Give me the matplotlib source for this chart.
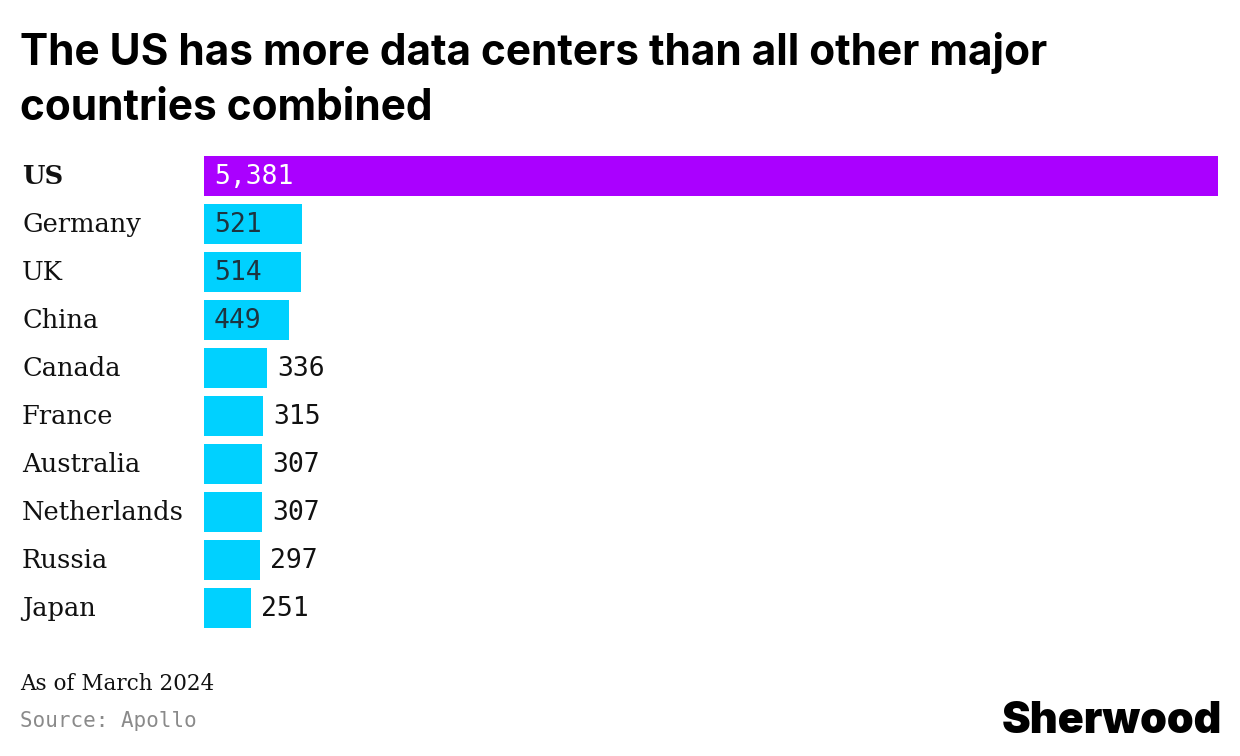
import matplotlib
matplotlib.use("Agg")
import matplotlib.pyplot as plt
from matplotlib.transforms import blended_transform_factory

# data
countries = ["US", "Germany", "UK", "China", "Canada", "France",
             "Australia", "Netherlands", "Russia", "Japan"]
data_centers = [5381, 521, 514, 449, 336, 315, 307, 307, 297, 251]

TITLE = "The US has more data centers than all other major\ncountries combined"
NOTE = "As of March 2024"
SOURCE = "Source: Apollo"

PURPLE = "#AA00FF"
CYAN = "#00D1FF"
W, H = 1240, 756
INSIDE_MIN = 400

fig = plt.figure(figsize=(W / 100, H / 100), dpi=100)
fig.patch.set_facecolor("white")

# axes placed in pixel terms: bars span x 204..1218, y 156..628
left, right, top, bottom = 204, 1218, 156, 628
ax = fig.add_axes([left / W, 1 - bottom / H, (right - left) / W, (bottom - top) / H])
ax.set_axis_off()

bar_h = 40 / 48
ypos = list(range(len(countries)))
colors = [PURPLE if c == "US" else CYAN for c in countries]
ax.barh(ypos, data_centers, height=bar_h, color=colors, edgecolor="none")
ax.set_xlim(0, max(data_centers))
ax.set_ylim(len(countries) - 1 + bar_h / 2, -bar_h / 2)

mono = "DejaVu Sans Mono"
serif = "DejaVu Serif"
px = max(data_centers) / (right - left)  # data units per pixel

for y, (name, val) in enumerate(zip(countries, data_centers)):
    label = f"{val:,}"
    if val >= INSIDE_MIN:
        ax.text(10 * px, y + 0.02, label, va="center", ha="left", fontsize=19,
                family=mono, color="white" if name == "US" else "#1d3440")
    else:
        ax.text(val + 10 * px, y + 0.02, label, va="center", ha="left",
                fontsize=19, family=mono, color="#111111")

trans = blended_transform_factory(fig.transFigure, ax.transData)
for y, name in enumerate(countries):
    ax.text(22 / W, y + 0.02, name, transform=trans, va="center", ha="left",
            fontsize=18.5, family=serif, color="#111111",
            fontweight="bold" if name == "US" else "normal")

line1, line2 = TITLE.split("\n")
fig.text(20 / W, 1 - 65 / H, line1, va="baseline", ha="left",
         fontsize=30.5, family="Inter", fontweight="bold", color="#000000")
fig.text(20 / W, 1 - 120 / H, line2, va="baseline", ha="left",
         fontsize=30.5, family="Inter", fontweight="bold", color="#000000")

fig.text(20 / W, 1 - 690 / H, NOTE, va="baseline", ha="left", fontsize=15.5,
         family=serif, color="#111111")
fig.text(20 / W, 1 - 727 / H, SOURCE, va="baseline", ha="left", fontsize=15,
         family=mono, color="#8a8a8a")
fig.text(1222 / W, 1 - 733 / H, "Sherwood", va="baseline", ha="right",
         fontsize=31, family="Inter", fontweight="black", color="#000000")

fig.savefig("out.png", dpi=100, facecolor="white")
